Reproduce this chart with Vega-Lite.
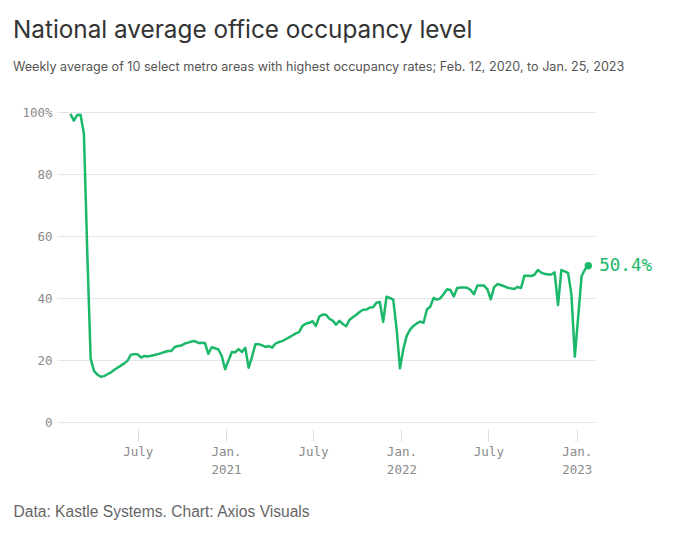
{
  "$schema": "https://vega.github.io/schema/vega-lite/v6.json",
  "width": 538,
  "height": 310,
  "autosize": "none",
  "padding": {"left": 57, "top": 112, "right": 85, "bottom": 115},
  "background": "white",
  "title": {
    "text": "National average office occupancy level",
    "subtitle": "Weekly average of 10 select metro areas with highest occupancy rates; Feb. 12, 2020, to Jan. 25, 2023",
    "anchor": "start",
    "frame": "group",
    "dx": -44,
    "offset": 32,
    "font": "Inter",
    "fontSize": 24.3,
    "fontWeight": "normal",
    "color": "#333333",
    "subtitleFont": "Inter",
    "subtitleFontSize": 12.6,
    "subtitleColor": "#555555",
    "subtitlePadding": 18
  },
  "data": {
    "values": [
      {"date": "2020-02-12", "occupancy": 99.4},
      {"date": "2020-02-19", "occupancy": 97.2},
      {"date": "2020-02-26", "occupancy": 99.0},
      {"date": "2020-03-04", "occupancy": 99.1},
      {"date": "2020-03-11", "occupancy": 93.0},
      {"date": "2020-03-18", "occupancy": 55.0},
      {"date": "2020-03-25", "occupancy": 20.5},
      {"date": "2020-04-01", "occupancy": 16.5},
      {"date": "2020-04-08", "occupancy": 15.3},
      {"date": "2020-04-15", "occupancy": 14.6},
      {"date": "2020-04-22", "occupancy": 14.8},
      {"date": "2020-04-29", "occupancy": 15.4},
      {"date": "2020-05-06", "occupancy": 16.0},
      {"date": "2020-05-13", "occupancy": 16.8},
      {"date": "2020-05-20", "occupancy": 17.5},
      {"date": "2020-05-27", "occupancy": 18.2},
      {"date": "2020-06-03", "occupancy": 18.9},
      {"date": "2020-06-10", "occupancy": 19.8},
      {"date": "2020-06-17", "occupancy": 21.7},
      {"date": "2020-06-24", "occupancy": 21.9},
      {"date": "2020-07-01", "occupancy": 21.8},
      {"date": "2020-07-08", "occupancy": 20.8},
      {"date": "2020-07-15", "occupancy": 21.3},
      {"date": "2020-07-22", "occupancy": 21.1},
      {"date": "2020-07-29", "occupancy": 21.4},
      {"date": "2020-08-05", "occupancy": 21.6},
      {"date": "2020-08-12", "occupancy": 21.9},
      {"date": "2020-08-19", "occupancy": 22.2},
      {"date": "2020-08-26", "occupancy": 22.6},
      {"date": "2020-09-02", "occupancy": 22.9},
      {"date": "2020-09-09", "occupancy": 22.9},
      {"date": "2020-09-16", "occupancy": 24.2},
      {"date": "2020-09-23", "occupancy": 24.5},
      {"date": "2020-09-30", "occupancy": 24.7},
      {"date": "2020-10-07", "occupancy": 25.3},
      {"date": "2020-10-14", "occupancy": 25.6},
      {"date": "2020-10-21", "occupancy": 26.0},
      {"date": "2020-10-28", "occupancy": 26.1},
      {"date": "2020-11-04", "occupancy": 25.5},
      {"date": "2020-11-11", "occupancy": 25.6},
      {"date": "2020-11-18", "occupancy": 25.5},
      {"date": "2020-11-25", "occupancy": 22.0},
      {"date": "2020-12-02", "occupancy": 24.1},
      {"date": "2020-12-09", "occupancy": 23.8},
      {"date": "2020-12-16", "occupancy": 23.4},
      {"date": "2020-12-23", "occupancy": 21.3},
      {"date": "2020-12-30", "occupancy": 17.0},
      {"date": "2021-01-06", "occupancy": 19.8},
      {"date": "2021-01-13", "occupancy": 22.6},
      {"date": "2021-01-20", "occupancy": 22.5},
      {"date": "2021-01-27", "occupancy": 23.5},
      {"date": "2021-02-03", "occupancy": 22.6},
      {"date": "2021-02-10", "occupancy": 23.9},
      {"date": "2021-02-17", "occupancy": 17.5},
      {"date": "2021-02-24", "occupancy": 21.0},
      {"date": "2021-03-03", "occupancy": 25.1},
      {"date": "2021-03-10", "occupancy": 25.1},
      {"date": "2021-03-17", "occupancy": 24.7},
      {"date": "2021-03-24", "occupancy": 24.2},
      {"date": "2021-03-31", "occupancy": 24.5},
      {"date": "2021-04-07", "occupancy": 24.0},
      {"date": "2021-04-14", "occupancy": 25.3},
      {"date": "2021-04-21", "occupancy": 25.8},
      {"date": "2021-04-28", "occupancy": 26.1},
      {"date": "2021-05-05", "occupancy": 26.7},
      {"date": "2021-05-12", "occupancy": 27.3},
      {"date": "2021-05-19", "occupancy": 27.9},
      {"date": "2021-05-26", "occupancy": 28.6},
      {"date": "2021-06-02", "occupancy": 29.0},
      {"date": "2021-06-09", "occupancy": 31.0},
      {"date": "2021-06-16", "occupancy": 31.7},
      {"date": "2021-06-23", "occupancy": 32.0},
      {"date": "2021-06-30", "occupancy": 32.5},
      {"date": "2021-07-07", "occupancy": 31.0},
      {"date": "2021-07-14", "occupancy": 34.0},
      {"date": "2021-07-21", "occupancy": 34.7},
      {"date": "2021-07-28", "occupancy": 34.6},
      {"date": "2021-08-04", "occupancy": 33.3},
      {"date": "2021-08-11", "occupancy": 32.7},
      {"date": "2021-08-18", "occupancy": 31.4},
      {"date": "2021-08-25", "occupancy": 32.6},
      {"date": "2021-09-01", "occupancy": 31.6},
      {"date": "2021-09-08", "occupancy": 30.9},
      {"date": "2021-09-15", "occupancy": 33.0},
      {"date": "2021-09-22", "occupancy": 33.8},
      {"date": "2021-09-29", "occupancy": 34.6},
      {"date": "2021-10-06", "occupancy": 35.5},
      {"date": "2021-10-13", "occupancy": 36.2},
      {"date": "2021-10-20", "occupancy": 36.3},
      {"date": "2021-10-27", "occupancy": 36.9},
      {"date": "2021-11-03", "occupancy": 37.0},
      {"date": "2021-11-10", "occupancy": 38.5},
      {"date": "2021-11-17", "occupancy": 38.7},
      {"date": "2021-11-24", "occupancy": 32.3},
      {"date": "2021-12-01", "occupancy": 40.4},
      {"date": "2021-12-08", "occupancy": 40.0},
      {"date": "2021-12-15", "occupancy": 39.5},
      {"date": "2021-12-22", "occupancy": 30.0},
      {"date": "2021-12-29", "occupancy": 17.3},
      {"date": "2022-01-05", "occupancy": 23.5},
      {"date": "2022-01-12", "occupancy": 27.8},
      {"date": "2022-01-19", "occupancy": 29.8},
      {"date": "2022-01-26", "occupancy": 31.0},
      {"date": "2022-02-02", "occupancy": 31.8},
      {"date": "2022-02-09", "occupancy": 32.4},
      {"date": "2022-02-16", "occupancy": 32.0},
      {"date": "2022-02-23", "occupancy": 36.3},
      {"date": "2022-03-02", "occupancy": 37.2},
      {"date": "2022-03-09", "occupancy": 40.0},
      {"date": "2022-03-16", "occupancy": 39.5},
      {"date": "2022-03-23", "occupancy": 39.9},
      {"date": "2022-03-30", "occupancy": 41.3},
      {"date": "2022-04-06", "occupancy": 42.8},
      {"date": "2022-04-13", "occupancy": 42.6},
      {"date": "2022-04-20", "occupancy": 40.5},
      {"date": "2022-04-27", "occupancy": 43.2},
      {"date": "2022-05-04", "occupancy": 43.4},
      {"date": "2022-05-11", "occupancy": 43.4},
      {"date": "2022-05-18", "occupancy": 43.3},
      {"date": "2022-05-25", "occupancy": 42.6},
      {"date": "2022-06-01", "occupancy": 41.2},
      {"date": "2022-06-08", "occupancy": 44.0},
      {"date": "2022-06-15", "occupancy": 44.0},
      {"date": "2022-06-22", "occupancy": 44.0},
      {"date": "2022-06-29", "occupancy": 42.8},
      {"date": "2022-07-06", "occupancy": 39.6},
      {"date": "2022-07-13", "occupancy": 43.5},
      {"date": "2022-07-20", "occupancy": 44.5},
      {"date": "2022-07-27", "occupancy": 44.2},
      {"date": "2022-08-03", "occupancy": 43.8},
      {"date": "2022-08-10", "occupancy": 43.3},
      {"date": "2022-08-17", "occupancy": 43.1},
      {"date": "2022-08-24", "occupancy": 42.9},
      {"date": "2022-08-31", "occupancy": 43.6},
      {"date": "2022-09-07", "occupancy": 43.2},
      {"date": "2022-09-14", "occupancy": 47.2},
      {"date": "2022-09-21", "occupancy": 47.2},
      {"date": "2022-09-28", "occupancy": 47.1},
      {"date": "2022-10-05", "occupancy": 47.5},
      {"date": "2022-10-12", "occupancy": 49.0},
      {"date": "2022-10-19", "occupancy": 48.2},
      {"date": "2022-10-26", "occupancy": 47.8},
      {"date": "2022-11-02", "occupancy": 47.6},
      {"date": "2022-11-09", "occupancy": 47.6},
      {"date": "2022-11-16", "occupancy": 48.3},
      {"date": "2022-11-23", "occupancy": 37.7},
      {"date": "2022-11-30", "occupancy": 49.0},
      {"date": "2022-12-07", "occupancy": 48.6},
      {"date": "2022-12-14", "occupancy": 48.1},
      {"date": "2022-12-21", "occupancy": 41.0},
      {"date": "2022-12-28", "occupancy": 21.1},
      {"date": "2023-01-04", "occupancy": 34.0},
      {"date": "2023-01-11", "occupancy": 47.0},
      {"date": "2023-01-18", "occupancy": 49.2},
      {"date": "2023-01-25", "occupancy": 50.4}
    ]
  },
  "encoding": {
    "x": {
      "field": "date",
      "type": "temporal",
      "scale": {
        "type": "utc",
        "domain": [
          {"year": 2020, "month": 1, "date": 15, "utc": true},
          {"year": 2023, "month": 2, "date": 8, "utc": true}
        ]
      },
      "axis": {
        "values": [
          {"year": 2020, "month": 7, "date": 1, "utc": true},
          {"year": 2021, "month": 1, "date": 1, "utc": true},
          {"year": 2021, "month": 7, "date": 1, "utc": true},
          {"year": 2022, "month": 1, "date": 1, "utc": true},
          {"year": 2022, "month": 7, "date": 1, "utc": true},
          {"year": 2023, "month": 1, "date": 1, "utc": true}
        ],
        "labelExpr": "utcmonth(datum.value) == 0 ? ['Jan.', utcFormat(datum.value, '%Y')] : 'July'",
        "grid": false,
        "domain": false,
        "offset": 7,
        "tickSize": 12,
        "tickColor": "#dddddd",
        "labelPadding": 4,
        "labelLineHeight": 18,
        "labelBaseline": "top",
        "labelFont": "DejaVu Sans Mono",
        "labelFontSize": 12.5,
        "labelColor": "#8a8a8a",
        "title": "Data: Kastle Systems. Chart: Axios Visuals",
        "titleX": -44,
        "titleY": 87,
        "titleAlign": "left",
        "titleBaseline": "alphabetic",
        "titleFont": "Liberation Sans",
        "titleFontSize": 15.6,
        "titleFontWeight": "normal",
        "titleColor": "#666666"
      }
    },
    "y": {
      "field": "occupancy",
      "type": "quantitative",
      "scale": {"domain": [0, 100], "nice": false},
      "axis": {
        "values": [0, 20, 40, 60, 80, 100],
        "labelExpr": "datum.value == 100 ? '100%' : datum.label",
        "title": null,
        "domain": false,
        "ticks": false,
        "labelPadding": 5,
        "gridColor": "#e6e6e6",
        "labelFont": "DejaVu Sans Mono",
        "labelFontSize": 12.5,
        "labelColor": "#8a8a8a"
      }
    }
  },
  "layer": [
    {
      "mark": {"type": "line", "color": "#1bb86a", "strokeWidth": 2.5, "strokeJoin": "round"}
    },
    {
      "transform": [{"filter": "datum.occupancy == 50.4"}],
      "mark": {"type": "point", "filled": true, "color": "#1bb86a", "size": 55, "opacity": 1}
    },
    {
      "transform": [{"filter": "datum.occupancy == 50.4"}],
      "mark": {
        "type": "text",
        "align": "left",
        "baseline": "middle",
        "dx": 11,
        "text": {"expr": "format(datum.occupancy, '.1f') + '%'"},
        "font": "DejaVu Sans Mono",
        "fontSize": 17.5,
        "color": "#1bb86a"
      }
    }
  ],
  "config": {
    "view": {"stroke": null}
  }
}
